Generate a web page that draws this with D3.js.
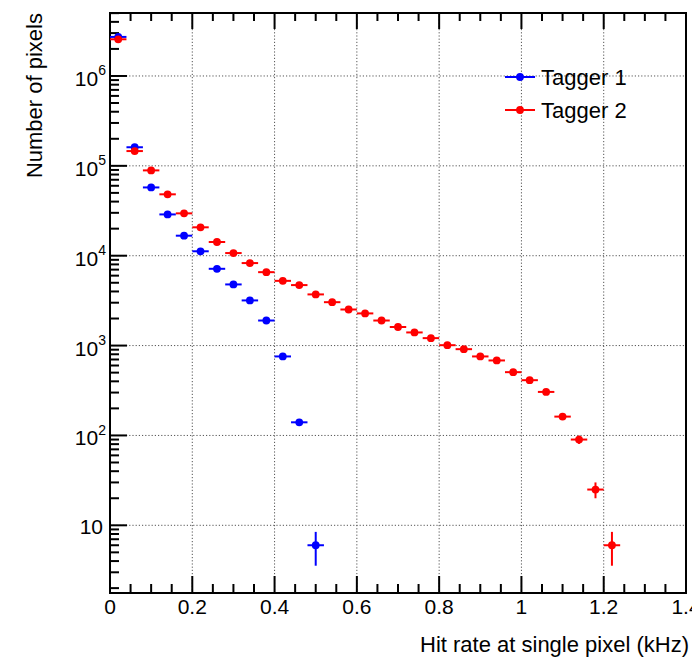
<!DOCTYPE html>
<html>
<head>
<meta charset="utf-8">
<script src="https://cdn.jsdelivr.net/npm/d3@7"></script>
<style>
  html, body { margin: 0; padding: 0; background: #fff; }
  svg { display: block; font-family: "Liberation Sans", Arial, sans-serif; }
</style>
</head>
<body>
<svg id="chart" width="692" height="661"></svg>
<script>
// ---- Data ----
const binCenters = [0.02, 0.06, 0.10, 0.14, 0.18, 0.22, 0.26, 0.30, 0.34, 0.38, 0.42, 0.46, 0.50,
  0.54, 0.58, 0.62, 0.66, 0.70, 0.74, 0.78, 0.82, 0.86, 0.90, 0.94, 0.98, 1.02, 1.06, 1.10, 1.14, 1.18, 1.22];
const binHalfWidth = 0.02;
const tagger1 = [2.72e6, 1.61e5, 5.75e4, 2.88e4, 1.67e4, 1.12e4, 7.15e3, 4.79e3, 3.18e3, 1.90e3, 757, 140, 6];
const tagger2 = [2.56e6, 1.46e5, 8.9e4, 4.82e4, 2.96e4, 2.07e4, 1.42e4, 1.07e4, 8.28e3, 6.56e3, 5.25e3, 4.71e3,
  3.71e3, 3.04e3, 2.52e3, 2.28e3, 1.90e3, 1.61e3, 1.40e3, 1.21e3, 1.01e3, 912, 757, 683, 506, 412, 305, 162, 90, 25, 6];
const seriesNames = ["Tagger 1", "Tagger 2"];
const seriesColors = ["#0000ff", "#ff0000"];
const xTicks = [0, 0.2, 0.4, 0.6, 0.8, 1, 1.2, 1.4];
const xTickLabels = ["0", "0.2", "0.4", "0.6", "0.8", "1", "1.2", "1.4"];
const yDecades = [10, 100, 1e3, 1e4, 1e5, 1e6];
const yDecadeExp = [1, 2, 3, 4, 5, 6];
const xTitle = "Hit rate at single pixel (kHz)";
const yTitle = "Number of pixels";

// ---- Layout ----
const L = 110, R = 686, T = 13, B = 593;
const svg = d3.select("#chart");
const x = d3.scaleLinear().domain([0, 1.4]).range([L, R]);
const y = d3.scaleLog().domain([1.765, 5.02e6]).range([B, T]);
const FS = 21;
const TFS = 22;

// grid
const grid = svg.append("g").attr("stroke", "#555").attr("stroke-width", 1).attr("stroke-dasharray", "1.2,2");
xTicks.filter(t => t > 0 && t < 1.4).forEach(t => {
  grid.append("line").attr("x1", x(t)).attr("x2", x(t)).attr("y1", T).attr("y2", B);
});
yDecades.forEach(v => {
  grid.append("line").attr("x1", L).attr("x2", R).attr("y1", y(v)).attr("y2", y(v));
});

// frame
svg.append("rect").attr("x", L).attr("y", T).attr("width", R - L).attr("height", B - T)
  .attr("fill", "none").attr("stroke", "#000").attr("stroke-width", 2);

// x ticks (bottom and top, inward)
const xMinor = d3.range(0, 1.4001, 0.05);
const tk = svg.append("g").attr("stroke", "#000").attr("stroke-width", 2);
xMinor.forEach(t => {
  const major = Math.abs(Math.round(t / 0.2) * 0.2 - t) < 1e-6;
  const len = major ? 17 : 9;
  tk.append("line").attr("x1", x(t)).attr("x2", x(t)).attr("y1", B).attr("y2", B - len);
  tk.append("line").attr("x1", x(t)).attr("x2", x(t)).attr("y1", T).attr("y2", T + (major ? 16 : 8));
});
// y ticks (left, inward)
const yTicksAll = y.ticks();
yTicksAll.forEach(v => {
  const lg = Math.log10(v);
  const major = Math.abs(lg - Math.round(lg)) < 1e-6;
  tk.append("line").attr("x1", L).attr("x2", L + (major ? 17 : 9)).attr("y1", y(v)).attr("y2", y(v));
});

// x tick labels
xTicks.forEach((t, i) => {
  svg.append("text").attr("x", x(t)).attr("y", 614).attr("text-anchor", "middle")
    .attr("font-size", FS).attr("fill", "#000").text(xTickLabels[i]);
});
// y tick labels
yDecades.forEach((v, i) => {
  const e = yDecadeExp[i];
  if (e === 1) {
    svg.append("text").attr("x", 103).attr("y", y(v) + 9).attr("text-anchor", "end")
      .attr("font-size", FS).attr("fill", "#000").text("10");
  } else {
    const t = svg.append("text").attr("x", 106).attr("y", y(v) + 10).attr("text-anchor", "end")
      .attr("font-size", FS).attr("fill", "#000");
    t.append("tspan").text("10");
    t.append("tspan").attr("dy", -10.5).attr("font-size", 14).text(String(e));
  }
});

// axis titles
svg.append("text").attr("x", 689).attr("y", 652).attr("text-anchor", "end")
  .attr("font-size", TFS).attr("fill", "#000").text(xTitle);
svg.append("text").attr("transform", "translate(42,13) rotate(-90)").attr("text-anchor", "end")
  .attr("font-size", TFS).attr("fill", "#000").text(yTitle);

// data
function drawSeries(vals, color) {
  const g = svg.append("g");
  vals.forEach((v, i) => {
    const cx = binCenters[i];
    const err = Math.sqrt(v);
    g.append("line").attr("x1", x(cx - binHalfWidth)).attr("x2", x(cx + binHalfWidth))
      .attr("y1", y(v)).attr("y2", y(v)).attr("stroke", color).attr("stroke-width", 2);
    g.append("line").attr("x1", x(cx)).attr("x2", x(cx))
      .attr("y1", y(v + err)).attr("y2", y(Math.max(v - err, 1.765))).attr("stroke", color).attr("stroke-width", 2);
    g.append("circle").attr("cx", x(cx)).attr("cy", y(v)).attr("r", 3.9).attr("fill", color);
  });
}
drawSeries(tagger1, seriesColors[0]);
drawSeries(tagger2, seriesColors[1]);

// legend
const legY = [77, 110];
seriesNames.forEach((name, i) => {
  const c = seriesColors[i];
  svg.append("line").attr("x1", 505).attr("x2", 535).attr("y1", legY[i]).attr("y2", legY[i])
    .attr("stroke", c).attr("stroke-width", 2);
  svg.append("circle").attr("cx", 520).attr("cy", legY[i]).attr("r", 3.9).attr("fill", c);
  svg.append("text").attr("x", 541).attr("y", legY[i] + 8).attr("font-size", TFS)
    .attr("fill", "#000").text(name);
});
</script>
</body>
</html>
